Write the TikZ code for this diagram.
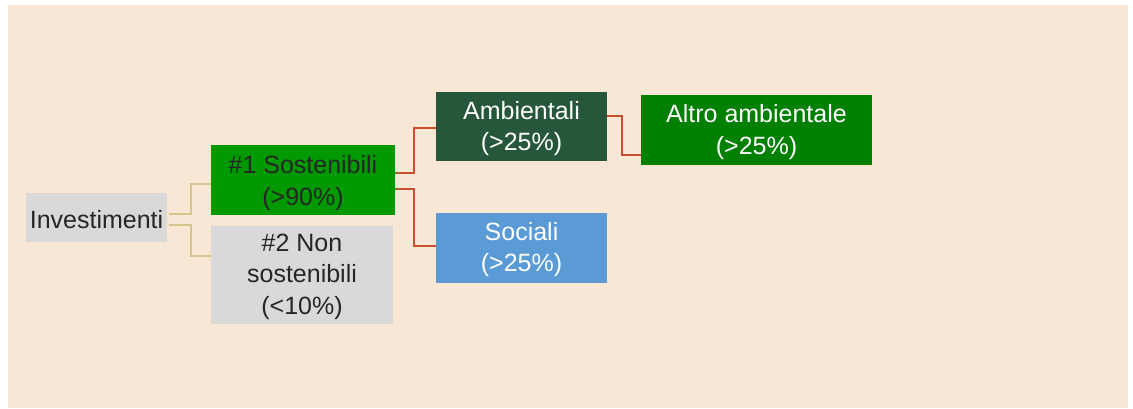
\documentclass[tikz,border=0pt]{standalone}
\usepackage{fontspec}
\setmainfont{Liberation Sans}
\definecolor{bgc}{HTML}{F9E7D5}
\definecolor{greyc}{HTML}{D9D9D9}
\definecolor{greenA}{HTML}{009900}
\definecolor{darkg}{HTML}{26573A}
\definecolor{greenB}{HTML}{008000}
\definecolor{bluec}{HTML}{5B9BD5}
\definecolor{goldc}{HTML}{D5C78C}
\definecolor{redc}{HTML}{C9502F}
\definecolor{txt}{HTML}{262626}
\begin{document}
\begin{tikzpicture}[x=1pt,y=-1pt,
  box/.style={rectangle, inner sep=0pt, align=center, font=\fontsize{25}{31.5}\selectfont},
  goldline/.style={draw=goldc, line width=2pt},
  redline/.style={draw=redc, line width=2pt}]
\useasboundingbox[fill=white] (0,0) rectangle (1133,409);
\fill[bgc] (8,5) rectangle (1128,408);
\node[box, fill=greyc, text=txt, minimum width=141pt, minimum height=49pt, text height=35pt, text depth=14pt] (inv) at (96.5,217.5) {Investimenti};
\node[box, fill=greenA, text=txt, minimum width=184pt, minimum height=70pt, text height=60pt, text depth=10pt] (s1) at (303,180) {\#1 Sostenibili\\(>90\%)};
\node[box, fill=greyc, text=txt, minimum width=182pt, minimum height=98pt, text height=88.3pt, text depth=9.7pt] (s2) at (302,275) {\#2 Non\\sostenibili\\(<10\%)};
\node[box, fill=darkg, text=white, minimum width=171pt, minimum height=69pt, text height=59pt, text depth=10pt] (amb) at (521.5,126.5) {Ambientali\\(>25\%)};
\node[box, fill=greenB, text=white, minimum width=231pt, minimum height=70pt, text height=59.3pt, text depth=10.7pt] (alt) at (756.5,130) {Altro ambientale\\(>25\%)};
\node[box, fill=bluec, text=white, minimum width=171pt, minimum height=70pt, text height=58.7pt, text depth=11.3pt] (soc) at (521.5,248) {Sociali\\(>25\%)};
\draw[goldline] ([shift={(2,-3.5)}]inv.east) -- ++(22,0) |- ([shift={(0,4)}]s1.west);
\draw[goldline] ([shift={(2,7.5)}]inv.east) -- ++(22,0) |- ([shift={(0,-19)}]s2.west);
\draw[redline] ([shift={(0,-7.3)}]s1.east) -- ++(19,0) |- ([shift={(0,1.2)}]amb.west);
\draw[redline] ([shift={(0,8.7)}]s1.east) -- ++(19,0) |- ([shift={(0,-2.3)}]soc.west);
\draw[redline] ([shift={(0,-10.8)}]amb.east) -- ++(15,0) |- ([shift={(0,25)}]alt.west);
\end{tikzpicture}
\end{document}
